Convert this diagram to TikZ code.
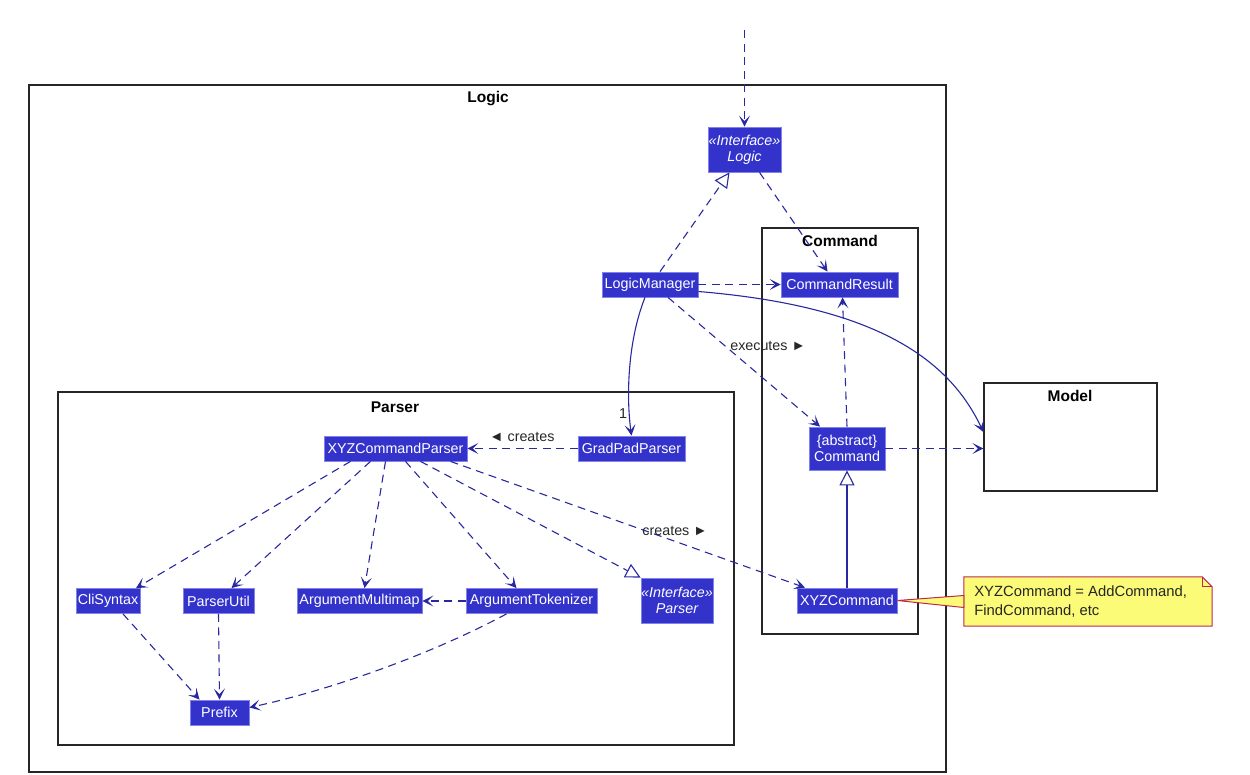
\documentclass[tikz,border=0pt]{standalone}
\usepackage{fontspec}
\setmainfont{Liberation Sans}
\usetikzlibrary{arrows.meta,calc}
\definecolor{clsfill}{RGB}{51,51,204}
\definecolor{clsline}{RGB}{130,130,235}
\definecolor{edgec}{RGB}{40,40,160}
\definecolor{notefill}{RGB}{251,251,119}
\definecolor{noteline}{RGB}{190,40,80}
\tikzset{
  cls/.style={draw=clsline, fill=clsfill, text=white, font=\fontsize{14.3}{16}\selectfont,
    inner sep=0pt, minimum height=25pt, line width=0.8pt, align=center},
  ifc/.style={cls, font=\fontsize{14.3}{16}\selectfont\itshape, minimum height=45pt},
  pkg/.style={draw=black!85, line width=1.3pt, inner sep=0pt},
  ttl/.style={font=\fontsize{15.5}{18}\selectfont\bfseries},
  tip/.style={-{Stealth[length=11pt,width=11pt,inset=5.5pt]}},
  dep/.style={draw=edgec, dash pattern=on 8pt off 5.5pt, line width=1.1pt, tip},
  assoc/.style={draw=edgec, line width=1.1pt, tip},
  real/.style={draw=edgec, dash pattern=on 8pt off 5.5pt, line width=1.1pt,
    -{Triangle[open,length=15pt,width=15pt,fill=white]}},
  gen/.style={draw=edgec, line width=1.1pt, -{Triangle[open,length=15pt,width=15pt,fill=white]}},
  lbl/.style={font=\fontsize{14.3}{16}\selectfont, text=black!85},
}
\begin{document}
\begin{tikzpicture}[x=1pt,y=-1pt]
\useasboundingbox (0,0) rectangle (1250,774);
% packages
\node[pkg, minimum width=917pt, minimum height=687pt] (logicpkg) at (487.5,428.5) {};
\node[ttl] (logicttl) at (488,99) {Logic};
\node[pkg, minimum width=156pt, minimum height=406pt] (cmdpkg) at (840,431) {};
\node[ttl] (cmdttl) at (840,241) {Command};
\node[pkg, minimum width=676pt, minimum height=353pt] (parserpkg) at (396,568.5) {};
\node[ttl] (parserttl) at (395,407) {Parser};
\node[pkg, minimum width=173pt, minimum height=108pt] (model) at (1070.5,437) {};
\node[ttl] (modelttl) at (1070,396) {Model};
% classes
\node[ifc, minimum width=73pt] (logic) at (744.5,149.5) {«Interface»\\Logic};
\node[cls, minimum width=96pt] (lm) at (650,284.5) {LogicManager};
\node[cls, minimum width=117pt] (cr) at (839.5,284.5) {CommandResult};
\node[cls, minimum width=76pt, minimum height=43pt] (cmd) at (847,448.5) {\{abstract\}\\Command};
\node[cls, minimum width=100pt] (xyz) at (847,600.5) {XYZCommand};
\node[cls, minimum width=143pt] (xyzp) at (395.5,448.5) {XYZCommandParser};
\node[cls, minimum width=107pt] (gpp) at (631.5,448.5) {GradPadParser};
\node[cls, minimum width=64pt] (cli) at (108,601) {CliSyntax};
\node[cls, minimum width=71pt] (pu) at (218.5,601) {ParserUtil};
\node[cls, minimum width=125pt] (am) at (359.5,601) {ArgumentMultimap};
\node[cls, minimum width=131pt] (at) at (531.5,601) {ArgumentTokenizer};
\node[ifc, minimum width=72pt] (par) at (677,600.5) {«Interface»\\Parser};
\node[cls, minimum width=59pt] (pre) at (219.5,712.5) {Prefix};
% note
\node[minimum width=248pt, minimum height=49pt, inner sep=0pt] (note) at (1088,601.5) {};
\draw[fill=notefill, draw=noteline, line width=1pt]
  (note.north west) -- ([xshift=-10pt]note.north east) -- ([yshift=-10pt]note.north east)
  -- (note.south east) -- (note.south west) -- cycle;
\draw[draw=noteline, line width=1pt] ([xshift=-10pt]note.north east) -- ([xshift=-10pt,yshift=-10pt]note.north east) -- ([yshift=-10pt]note.north east);
\node[anchor=west, align=left, font=\fontsize{14.8}{19}\selectfont, text=black!85] (notetxt) at ([xshift=7pt]note.west) {XYZCommand = AddCommand,\\FindCommand, etc};
\fill[notefill, draw=noteline, line width=1pt] (xyz.east) -- ([yshift=6pt]note.west) -- ([yshift=-6pt]note.west) -- cycle;
% edges
\coordinate (top) at (744.5,30);
\draw[dep] (top) -- (logic.north);
\draw[real] ([xshift=10pt]lm.north) -- ([xshift=-15pt]logic.south);
\draw[dep] ([xshift=15pt]logic.south) -- ([xshift=-12pt]cr.north);
\draw[dep] (lm.east) -- (cr.west);
\draw[assoc] ([yshift=-7pt]lm.east) .. controls (860,305) and (945,350) .. ([yshift=5pt]model.west);
\draw[assoc] ([xshift=-5pt]lm.south) .. controls (628,340) and (626,395) .. (gpp.north);
\node[lbl] (one) at (623,414) {1};
\draw[dep] ([xshift=18pt]lm.south) -- ([xshift=-27pt]cmd.north);
\node[lbl] (exec) at (768,346) {executes ►};
\draw[dep] (cmd.north) -- ([xshift=3pt]cr.south);
\draw[dep] (cmd.east) -- (model.west |- cmd.east);
\draw[gen] (xyz.north) -- (cmd.south);
\draw[dep] ([xshift=55pt]xyzp.south) -- ([xshift=-42pt]xyz.north);
\node[lbl] (cre1) at (675,531) {creates ►};
\draw[dep] (gpp.west) -- (xyzp.east);
\node[lbl] (cre2) at (522,437) {◄ creates};
\draw[dep] ([xshift=-45pt]xyzp.south) -- ([xshift=28pt]cli.north);
\draw[dep] ([xshift=-25pt]xyzp.south) -- ([xshift=13pt]pu.north);
\draw[dep] ([xshift=-10pt]xyzp.south) -- ([xshift=5pt]am.north);
\draw[dep] ([xshift=10pt]xyzp.south) -- ([xshift=-15pt]at.north);
\draw[real] ([xshift=25pt]xyzp.south) -- (par.north west);
\draw[dep] (at.west) -- (am.east);
\draw[dep] ([xshift=15pt]cli.south) -- ([xshift=-20pt]pre.north);
\draw[dep] (pu.south) -- (pre.north);
\draw[dep] ([xshift=-25pt]at.south) .. controls (430,655) and (330,690) .. ([yshift=5pt]pre.east);
\end{tikzpicture}
\end{document}
